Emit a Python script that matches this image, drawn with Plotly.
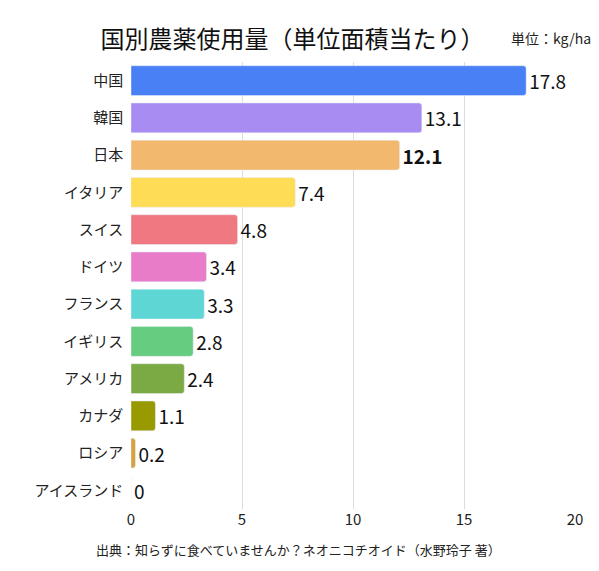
import plotly.graph_objects as go

countries = ['中国', '韓国', '日本', 'イタリア', 'スイス', 'ドイツ', 'フランス',
             'イギリス', 'アメリカ', 'カナダ', 'ロシア', 'アイスランド']
values = [17.8, 13.1, 12.1, 7.4, 4.8, 3.4, 3.3, 2.8, 2.4, 1.1, 0.2, 0]
colors = ['#4A80F6', '#A98CF2', '#F2B96E', '#FFDC55', '#F07880', '#E87CC8',
          '#5ED6D4', '#66CC80', '#7BAA45', '#999900', '#D9A040', '#CCCCCC']
labels = ['<b>%g</b>' % v if c == '日本' else '%g' % v for c, v in zip(countries, values)]

fig = go.Figure(go.Bar(
    x=values, y=countries, orientation='h',
    marker=dict(color=colors, cornerradius=3),
    width=0.8,
    text=labels, textposition='outside', cliponaxis=False,
    textfont=dict(size=19, color='#111111'),
))

fig.update_layout(
    width=599, height=571,
    margin=dict(l=123, r=32, t=54, b=70),
    plot_bgcolor='white', paper_bgcolor='white',
    font=dict(family='Noto Sans CJK JP', color='#222222'),
    showlegend=False,
    title=dict(text='国別農薬使用量（単位面積当たり）', x=0.475, xanchor='center',
               y=0.96, font=dict(size=24, color='#111111')),
    xaxis=dict(range=[0, 20], tickvals=[0, 5, 10, 15, 20], showgrid=True,
               gridcolor='#DDDDDD', zeroline=False, tickfont=dict(size=15),
               automargin=False),
    yaxis=dict(autorange='reversed', tickfont=dict(size=15), ticksuffix='  ',
               automargin=False),
    annotations=[
        dict(text='単位：kg/ha', x=(585 - 123) / 444, y=1.0, xref='paper', yref='paper',
             xanchor='right', yanchor='bottom', yshift=12, showarrow=False,
             font=dict(size=14)),
        dict(text='出典：知らずに食べていませんか？ネオニコチオイド（水野玲子 著）',
             x=(290 - 123) / 444, y=-(553 - 501) / 447, xref='paper', yref='paper',
             showarrow=False, font=dict(size=13)),
    ],
)
fig.write_html('out.html')
